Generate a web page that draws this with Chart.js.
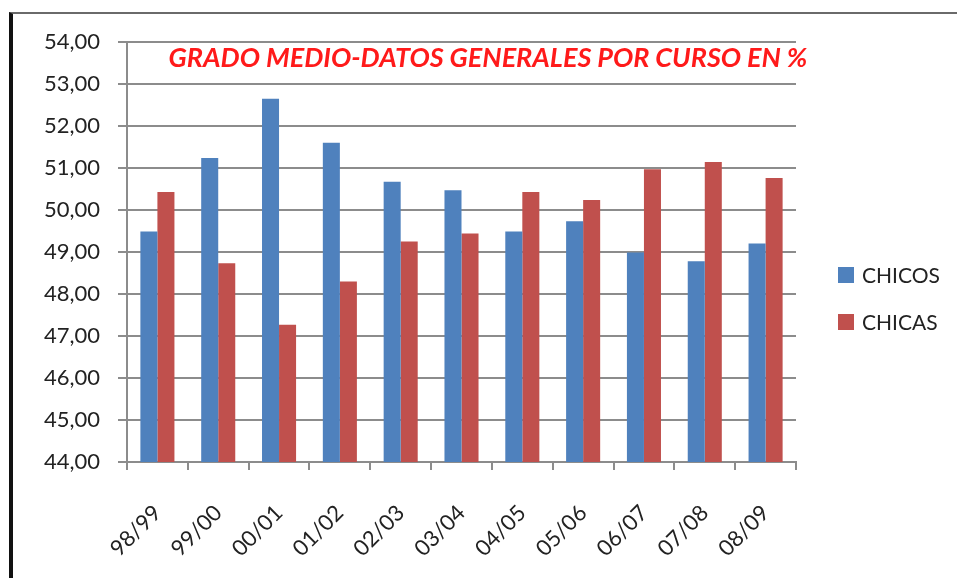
<!DOCTYPE html>
<html>
<head>
<meta charset="utf-8">
<script src="https://cdn.jsdelivr.net/npm/chart.js@4/dist/chart.umd.min.js"></script>
<style>
  html, body { margin: 0; padding: 0; background: #fff; }
  #wrap { position: relative; width: 957px; height: 578px; }
  #frame { position: absolute; left: 9px; top: 12px; right: 0; bottom: -10px;
           border-left: 4px solid #111; border-top: 2px solid #6a6a6a; }
  canvas { position: absolute; left: 0; top: 0; }
</style>
</head>
<body>
<div id="wrap">
  <div id="frame"></div>
  <canvas id="chart" width="957" height="578"></canvas>
</div>
<script>
// datos
var cursos = ['98/99', '99/00', '00/01', '01/02', '02/03', '03/04', '04/05', '05/06', '06/07', '07/08', '08/09'];
var chicos = [49.49, 51.24, 52.65, 51.60, 50.67, 50.47, 49.49, 49.73, 48.99, 48.78, 49.20];
var chicas = [50.43, 48.73, 47.27, 48.30, 49.25, 49.44, 50.43, 50.24, 50.97, 51.14, 50.76];
var titulo = 'GRADO MEDIO-DATOS GENERALES POR CURSO EN %';

var FONT = 'Lato, "Open Sans", sans-serif';

// titulo y leyenda dibujados a mano, dentro del area
var extras = {
    id: 'extras',
    afterDraw: function(chart) {
        var ctx = chart.ctx;
        ctx.save();
        ctx.fillStyle = '#ff1a1a';
        ctx.font = 'italic bold 27px ' + FONT;
        ctx.textAlign = 'center';
        ctx.textBaseline = 'middle';
        ctx.fillText(titulo, 488, 58);

        var ys = [275, 322];
        ctx.font = '21px ' + FONT;
        ctx.textAlign = 'left';
        chart.data.datasets.forEach(function(ds, i) {
            ctx.fillStyle = ds.backgroundColor;
            ctx.fillRect(838, ys[i] - 8, 16, 16);
            ctx.fillStyle = '#222';
            ctx.fillText(ds.label, 862, ys[i] + 1);
        });
        ctx.restore();
    }
};

new Chart(document.getElementById('chart'), {
    type: 'bar',
    data: {
        labels: cursos,
        datasets: [
            { label: 'CHICOS', data: chicos, backgroundColor: '#4F81BD' },
            { label: 'CHICAS', data: chicas, backgroundColor: '#C0504D' }
        ]
    },
    options: {
        responsive: false,
        animation: false,
        layout: { padding: { left: 0, right: 161, top: 42, bottom: 0 } },
        datasets: { bar: { categoryPercentage: 0.56, barPercentage: 1 } },
        plugins: { legend: { display: false }, title: { display: false }, tooltip: { enabled: false } },
        scales: {
            x: {
                afterFit: function(s) { s.height = 116; },
                grid: { drawOnChartArea: false, drawTicks: true, tickLength: 8, color: '#8c8c8c', lineWidth: 2 },
                border: { color: '#8c8c8c', width: 2 },
                ticks: { minRotation: 45, maxRotation: 45, padding: 30, color: '#222', font: { family: FONT, size: 22 } }
            },
            y: {
                min: 44, max: 54,
                afterFit: function(s) { s.width = 127; },
                grid: { color: '#8c8c8c', lineWidth: 2, tickLength: 9 },
                border: { color: '#8c8c8c', width: 2 },
                ticks: {
                    stepSize: 1, padding: 18, color: '#222', font: { family: FONT, size: 22 },
                    callback: function(v) { return v.toFixed(2).replace('.', ','); }
                }
            }
        }
    },
    plugins: [extras]
});
</script>
</body>
</html>
